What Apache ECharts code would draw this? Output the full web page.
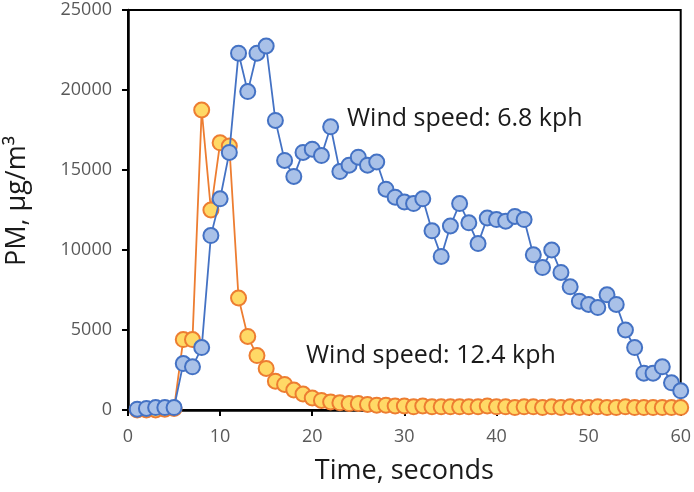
<!DOCTYPE html>
<html>
<head>
<meta charset="utf-8">
<script src="https://cdn.jsdelivr.net/npm/echarts@6/dist/echarts.min.js"></script>
<style>
  html, body { margin: 0; padding: 0; background: #fff; }
  #main { width: 694px; height: 492px; }
</style>
</head>
<body>
<div id="main"></div>
<script>
// time in seconds
const seconds = [];
for (let s = 1; s <= 60; s++) seconds.push(s);

// PM at 6.8 kph wind
const pmSlow = [50, 100, 150, 150, 150, 2900, 2700, 3900, 10900, 13200,
  16100, 22300, 19900, 22300, 22750, 18100, 15600, 14600, 16100, 16300,
  15900, 17700, 14900, 15300, 15800, 15300, 15500, 13800, 13300, 13000,
  12900, 13200, 11200, 9600, 11500, 12900, 11700, 10400, 12000, 11900,
  11800, 12100, 11900, 9700, 8900, 10000, 8600, 7700, 6800, 6600,
  6400, 7200, 6600, 5000, 3900, 2300, 2300, 2700, 1700, 1200];

// PM at 12.4 kph wind
const pmFast = [0, 0, 0, 50, 100, 4400, 4400, 18750, 12500, 16700,
  16500, 7000, 4600, 3400, 2600, 1800, 1600, 1250, 1000, 750,
  600, 500, 450, 400, 400, 350, 300, 300, 250, 250,
  200, 250, 200, 200, 200, 200, 200, 200, 250, 200,
  200, 150, 200, 200, 150, 200, 150, 200, 150, 150,
  200, 150, 150, 200, 150, 150, 150, 150, 150, 150];

const yTicks = [0, 5000, 10000, 15000, 20000, 25000];
const xTicks = [0, 10, 20, 30, 40, 50, 60];

const chart = echarts.init(document.getElementById('main'));
const font = 'Open Sans';

const pairs = (ys) => seconds.map((s, i) => [s, ys[i]]);

chart.setOption({
  animation: false,
  textStyle: { fontFamily: font },
  grid: {
    left: 128, right: 9, top: 10, bottom: 82,
    show: true, borderColor: '#000', borderWidth: 2
  },
  xAxis: {
    type: 'value',
    min: xTicks[0], max: xTicks[xTicks.length - 1], interval: 10,
    name: 'Time, seconds',
    nameLocation: 'middle', nameGap: 48,
    nameTextStyle: { fontSize: 27, color: '#1a1a1a', fontFamily: font },
    axisLine: { lineStyle: { color: '#000', width: 2.5 } },
    axisTick: { show: true, length: 6, lineStyle: { color: '#000', width: 2 } },
    axisLabel: { fontSize: 18, color: '#595959', margin: 18, fontFamily: font },
    splitLine: { show: false }
  },
  yAxis: {
    type: 'value',
    min: yTicks[0], max: yTicks[yTicks.length - 1], interval: 5000,
    axisLine: { show: true, lineStyle: { color: '#000', width: 2.5 } },
    axisTick: { show: true, length: 6, lineStyle: { color: '#000', width: 2 } },
    axisLabel: { fontSize: 18, color: '#595959', margin: 16, fontFamily: font,
      formatter: (v) => String(v) },
    splitLine: { show: false }
  },
  graphic: [
    { type: 'text', x: 17, y: 201, rotation: Math.PI / 2,
      style: { text: 'PM, μg/m³', fontSize: 27, fontFamily: font, fill: '#1a1a1a',
        textAlign: 'center', textVerticalAlign: 'middle' } },
    { type: 'text', left: 347, top: 106,
      style: { text: 'Wind speed: 6.8 kph', fontSize: 25, fontFamily: font, fill: '#1a1a1a' } },
    { type: 'text', left: 306, top: 343,
      style: { text: 'Wind speed: 12.4 kph', fontSize: 25, fontFamily: font, fill: '#1a1a1a' } }
  ],
  series: [
    {
      name: '12.4 kph', type: 'line', data: pairs(pmFast),
      symbol: 'circle', symbolSize: 15,
      lineStyle: { color: '#ED7D31', width: 1.8 },
      itemStyle: { color: '#FFD966', borderColor: '#ED7D31', borderWidth: 2 },
      z: 2
    },
    {
      name: '6.8 kph', type: 'line', data: pairs(pmSlow),
      symbol: 'circle', symbolSize: 15,
      lineStyle: { color: '#4472C4', width: 1.8 },
      itemStyle: { color: '#A9C1E8', borderColor: '#4472C4', borderWidth: 2 },
      z: 3
    }
  ]
});
</script>
</body>
</html>
